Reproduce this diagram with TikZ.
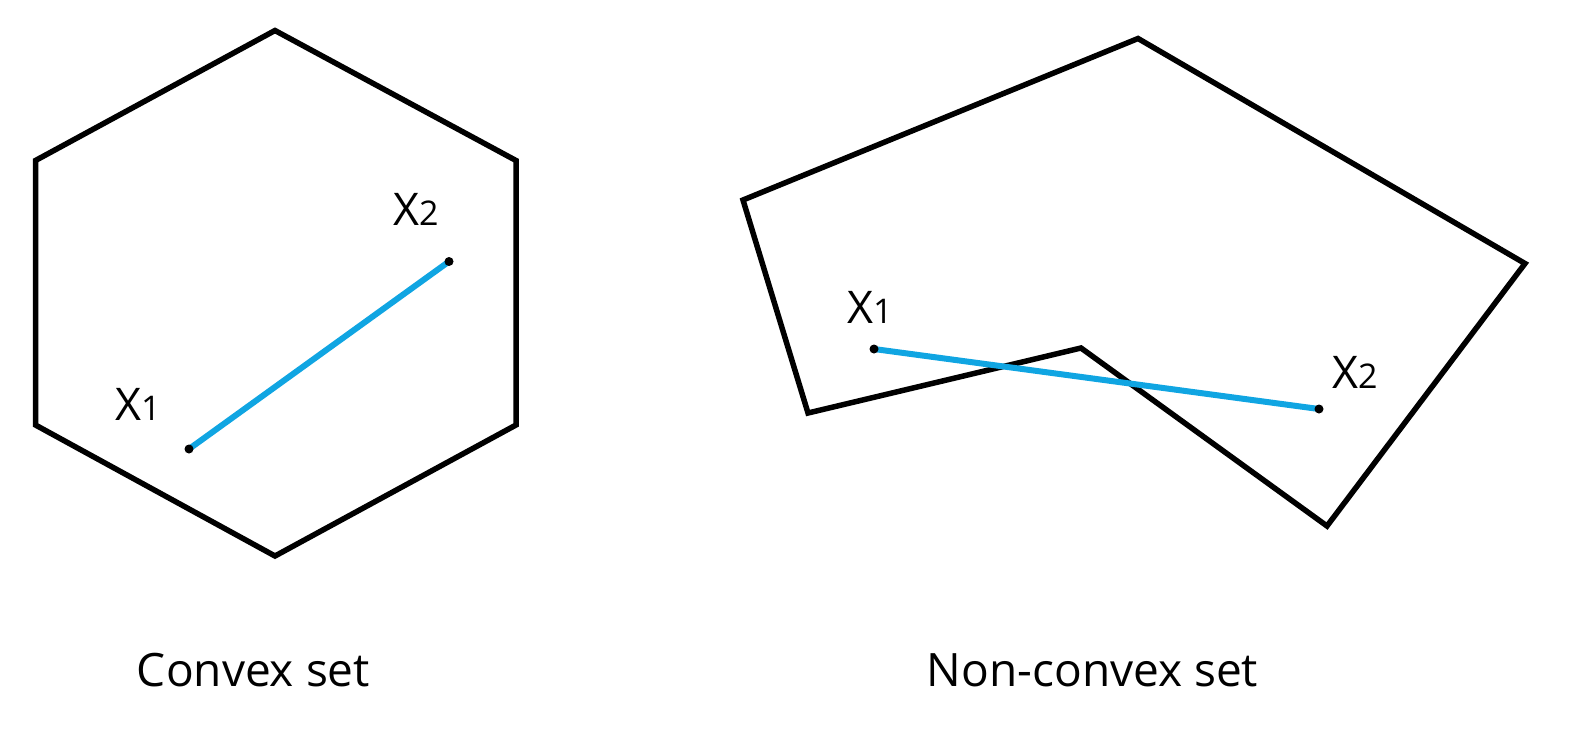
\documentclass[tikz,border=0pt]{standalone}
\usepackage{fontspec}
\setmainfont{Open Sans}
\begin{document}
\begin{tikzpicture}[x=1pt,y=-1pt,
  poly/.style={draw=black,line width=5.5pt,line join=miter},
  seg/.style={draw=segblue,line width=6pt},
  pt/.style={circle,fill=black,inner sep=0pt,minimum size=9pt},
  lbl/.style={font=\fontsize{45}{50}\selectfont,inner sep=0pt,anchor=base west},
  captext/.style={font=\fontsize{46}{54}\selectfont,inner sep=0pt,anchor=base}]
\definecolor{segblue}{RGB}{16,165,226}
\useasboundingbox (0,0) rectangle (1590,732);
% hexagon
\coordinate (h1) at (275,30.5);
\coordinate (h2) at (516,160.5);
\coordinate (h3) at (516,425);
\coordinate (h4) at (275,556);
\coordinate (h5) at (35.5,425);
\coordinate (h6) at (35.5,160.5);
\draw[poly] (h1)--(h2)--(h3)--(h4)--(h5)--(h6)--cycle;
\coordinate (a1) at (189,449);
\coordinate (a2) at (449,261.5);
\draw[seg] (a1)--(a2);
\node[pt] (d1) at (a1) {};
\node[pt] (d2) at (a2) {};
\node[lbl] (la1) at (115,420) {X{\fontsize{34}{40}\selectfont 1}};
\node[lbl] (la2) at (393,225) {X{\fontsize{34}{40}\selectfont 2}};
% non-convex
\coordinate (n1) at (1138,38.5);
\coordinate (n2) at (1525,263.5);
\coordinate (n3) at (1327,526);
\coordinate (n4) at (1081,348);
\coordinate (n5) at (808,413);
\coordinate (n6) at (743,200);
\draw[poly] (n1)--(n2)--(n3)--(n4)--(n5)--(n6)--cycle;
\coordinate (b1) at (874,349);
\coordinate (b2) at (1319,409);
\draw[seg] (b1)--(b2);
\node[pt] (e1) at (b1) {};
\node[pt] (e2) at (b2) {};
\node[lbl] (lb1) at (847,323) {X{\fontsize{34}{40}\selectfont 1}};
\node[lbl] (lb2) at (1332,388) {X{\fontsize{34}{40}\selectfont 2}};
% captions
\node[captext] (c1) at (253.5,686) {Convex set};
\node[captext] (c2) at (1092.5,686) {Non-convex set};
\end{tikzpicture}
\end{document}
